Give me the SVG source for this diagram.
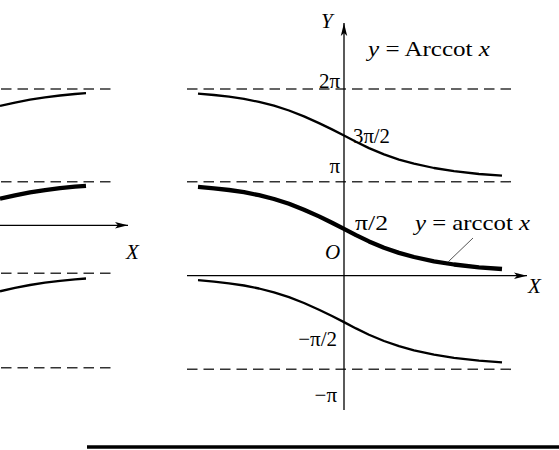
<svg xmlns="http://www.w3.org/2000/svg" width="559" height="450" viewBox="0 0 559 450">
<style>
.dash{stroke:#333;stroke-width:1.5;stroke-dasharray:10.5 6;fill:none}
.axis{stroke:#000;stroke-width:1.3;fill:none}
.thin{stroke:#000;stroke-width:2.3;fill:none;stroke-linejoin:round}
.thick{stroke:#000;stroke-width:4.3;fill:none;stroke-linejoin:round}
text{font-family:"Liberation Serif","Times New Roman",serif;font-size:21px;fill:#000}
.it{font-style:italic}
</style>
<defs>
<marker id="arr" markerUnits="userSpaceOnUse" markerWidth="14" markerHeight="8" refX="13" refY="4" orient="auto">
<path d="M0,0.8 L13,4 L0,7.2 L3,4 Z" fill="#000"/>
</marker>
</defs>
<rect width="559" height="450" fill="#fff"/>
<g id="asymptotes">
<line class="dash" x1="1" y1="89" x2="113" y2="89"/>
<line class="dash" x1="1" y1="181.7" x2="113" y2="181.7"/>
<line class="dash" x1="1" y1="273.3" x2="113" y2="273.3"/>
<line class="dash" x1="1" y1="367.7" x2="113" y2="367.7"/>
<line class="dash" x1="187" y1="89" x2="515" y2="89"/>
<line class="dash" x1="187" y1="181.7" x2="515" y2="181.7"/>
<line class="dash" x1="187" y1="369.3" x2="515" y2="369.3"/>
</g>
<g id="axes">
<line class="axis" x1="0" y1="225.3" x2="128" y2="225.3" marker-end="url(#arr)"/>
<line class="axis" x1="187" y1="275.7" x2="527" y2="275.7" marker-end="url(#arr)"/>
<line class="axis" x1="344" y1="410" x2="344" y2="23" marker-end="url(#arr)"/>
</g>
<g id="left-curves">
<path class="thin" d="M0,106 L15,102.6 L30,99.7 L45,97.4 L60,95.5 L75,94 L86,93.2"/>
<path class="thick" d="M0,198.7 L15,195.3 L30,192.4 L45,190.1 L60,188.2 L75,186.7 L86,185.9"/>
<path class="thin" d="M0,291.3 L15,287.9 L30,285 L45,282.7 L60,280.8 L75,279.3 L86,278.5"/>
</g>
<g id="curve-upper">
<path class="thin" d="M198,93.6 L214,95 L229,96.7 L244,98.9 L259,101.9 L274,105.7 L289,110.5 L304,116.4 L319,123.1 L332,129.4 L344,135.5 L356,141.8 L369,148.1 L384,154.4 L399,159.6 L414,163.7 L434,168 L454,171.2 L479,174 L502,175.7"/>
</g>
<g id="curve-main">
<path class="thick" d="M198,186.9 L214,188.3 L229,190 L244,192.2 L259,195.2 L274,199 L289,203.8 L304,209.7 L319,216.4 L332,222.7 L344,228.8 L356,235.1 L369,241.4 L384,247.7 L399,252.9 L414,257 L434,261.3 L454,264.5 L479,267.3 L502,269"/>
</g>
<g id="curve-lower">
<path class="thin" d="M198,280.2 L214,281.6 L229,283.3 L244,285.5 L259,288.5 L274,292.3 L289,297.1 L304,303 L319,309.7 L332,316 L344,322.1 L356,328.4 L369,334.7 L384,341 L399,346.2 L414,350.3 L434,354.6 L454,357.8 L479,360.6 L502,362.3"/>
</g>
<g id="connectors">
<line x1="473" y1="238" x2="448" y2="262" stroke="#555" stroke-width="1"/>
</g>
<g id="labels">
<text class="it" x="321" y="28">Y</text>
<text x="368" y="56" textLength="122" lengthAdjust="spacingAndGlyphs"><tspan class="it">y</tspan> = Arccot <tspan class="it">x</tspan></text>
<text x="340" y="88" text-anchor="end">2π</text>
<text x="353" y="143" textLength="37" lengthAdjust="spacingAndGlyphs">3π/2</text>
<text x="340" y="173" text-anchor="end">π</text>
<text x="355" y="230" textLength="33" lengthAdjust="spacingAndGlyphs">π/2</text>
<text x="415" y="230" textLength="115" lengthAdjust="spacingAndGlyphs"><tspan class="it">y</tspan> = arccot <tspan class="it">x</tspan></text>
<text class="it" x="325" y="259">O</text>
<text class="it" x="528" y="293">X</text>
<text class="it" x="126" y="259">X</text>
<text x="337" y="346" text-anchor="end">−π/2</text>
<text x="337" y="402" text-anchor="end">−π</text>
</g>
<g id="rule">
<line x1="87" y1="447" x2="559" y2="447" stroke="#000" stroke-width="3.5"/>
</g>
</svg>
